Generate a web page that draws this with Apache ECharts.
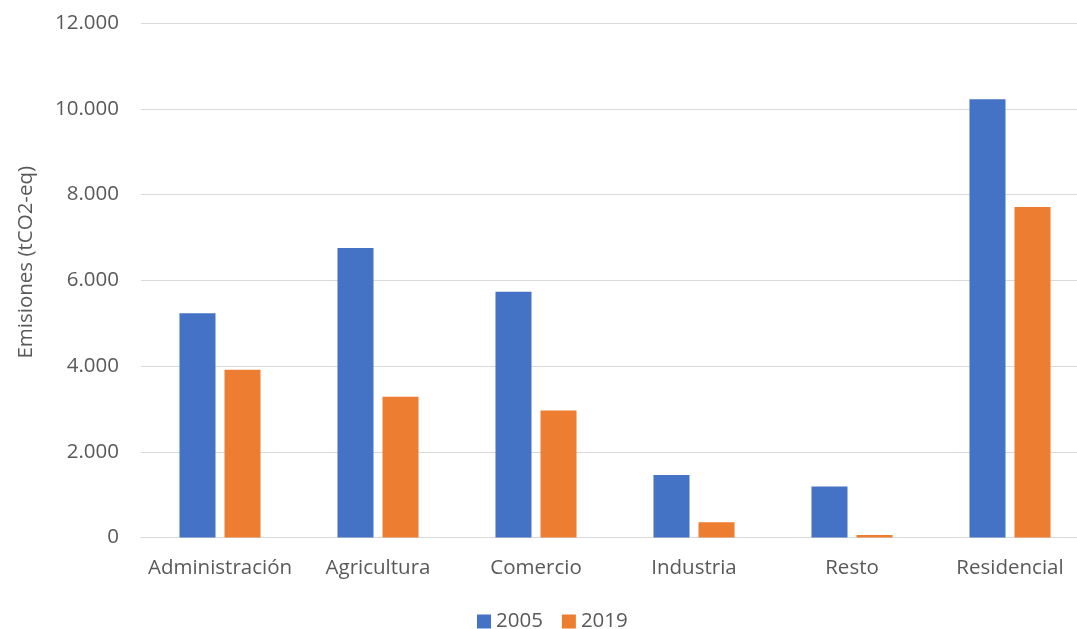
<!DOCTYPE html>
<html>
<head>
<meta charset="utf-8">
<script src="https://cdn.jsdelivr.net/npm/echarts@6/dist/echarts.min.js"></script>
<style>html,body{margin:0;padding:0;background:#fff;overflow:hidden;width:1077px;height:629px}#c{width:1089px;height:629px}</style>
</head>
<body>
<div id="c"></div>
<script>
const categories = ['Administración', 'Agricultura', 'Comercio', 'Industria', 'Resto', 'Residencial'];
const values2005 = [5230, 6750, 5730, 1460, 1190, 10220];
const values2019 = [3910, 3285, 2960, 355, 60, 7710];
const seriesNames = ['2005', '2019'];
const yTicks = { min: 0, max: 12000, interval: 2000 };

const fontFam = '"Open Sans", "Noto Sans", sans-serif';
const fs = 20.5;
const chart = echarts.init(document.getElementById('c'));
chart.setOption({
  animation: false,
  textStyle: { fontFamily: fontFam },
  grid: { left: 141, right: 0, top: 23, bottom: 91.5 },
  legend: {
    top: 606, left: 472,
    itemWidth: 14, itemHeight: 14, itemGap: 19,
    icon: 'rect',
    textStyle: { fontSize: fs, color: '#595959', fontFamily: fontFam },
    data: seriesNames
  },
  xAxis: {
    type: 'category',
    data: categories,
    axisLine: { show: true, lineStyle: { color: '#d9d9d9', width: 1 } },
    axisTick: { show: false },
    axisLabel: { interval: 0, fontSize: fs, color: '#595959', margin: 20, fontFamily: fontFam }
  },
  yAxis: {
    type: 'value',
    min: yTicks.min, max: yTicks.max, interval: yTicks.interval,
    name: 'Emisiones (tCO2-eq)',
    nameLocation: 'middle',
    nameGap: 104,
    nameTextStyle: { fontSize: fs, color: '#595959', fontFamily: fontFam, padding: [0, 0, 0, 36] },
    axisLine: { show: false },
    axisTick: { show: false },
    axisLabel: {
      fontSize: fs, color: '#595959', margin: 22, fontFamily: fontFam,
      formatter: v => v === 0 ? '0' : v.toString().replace(/\B(?=(\d{3})+(?!\d))/g, '.')
    },
    splitLine: { lineStyle: { color: '#d9d9d9', width: 1 } }
  },
  series: [
    { name: seriesNames[0], type: 'bar', data: values2005, barWidth: '22.8%', barGap: '25%', itemStyle: { color: '#4472C4' } },
    { name: seriesNames[1], type: 'bar', data: values2019, barWidth: '22.8%', barGap: '25%', itemStyle: { color: '#ED7D31' } }
  ]
});
</script>
</body>
</html>
